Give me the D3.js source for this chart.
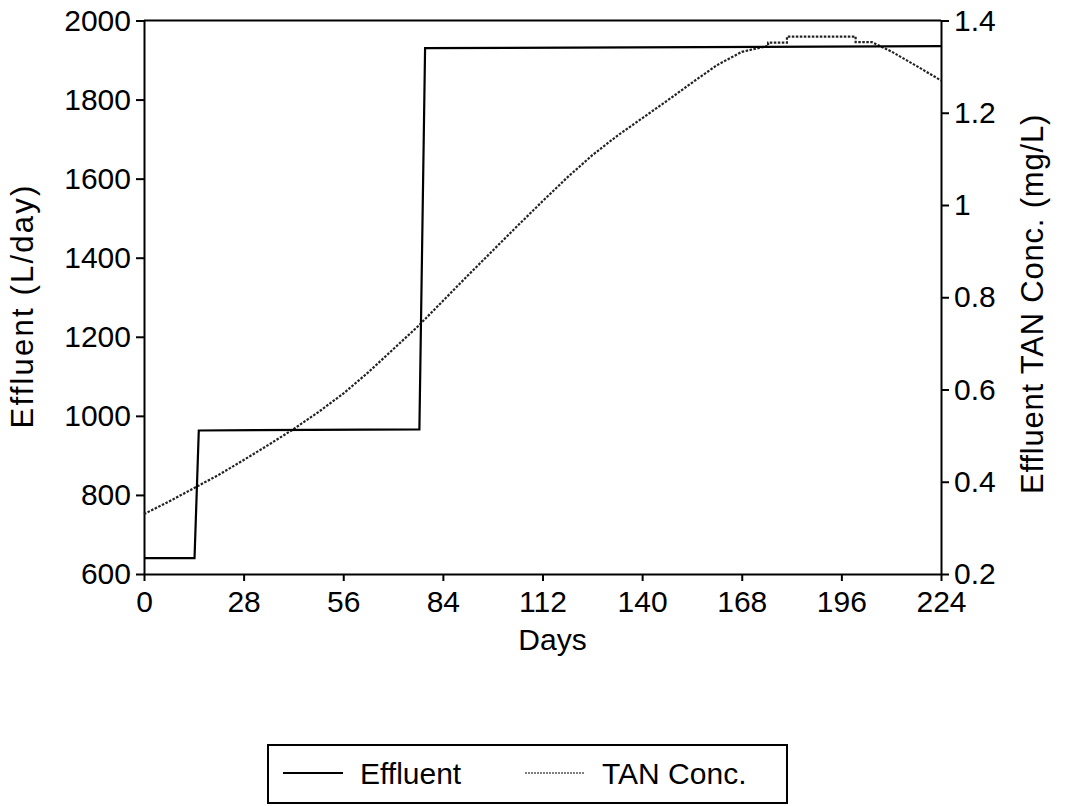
<!DOCTYPE html>
<html>
<head>
<meta charset="utf-8">
<script src="https://cdn.jsdelivr.net/npm/d3@7"></script>
<style>
  body { margin: 0; background: #fff; }
  svg text { font-family: "Liberation Sans", Arial, sans-serif; fill: #000; }
</style>
</head>
<body>
<div id="chart"></div>
<script>
// data
var effluentDays = [0, 14.2, 15.4, 77.4, 79.0, 224];
var effluentFlow = [640, 640, 963, 966, 1930, 1935];

var tanDays = [0, 7, 14, 21, 28, 35, 42, 49, 56, 63, 70, 77, 84, 91, 98, 105, 112, 119, 126, 133, 140, 147, 154, 161, 168, 175.4, 175.4, 180.7, 180.7, 200, 200, 204.6, 210, 217, 224];
var tanConc = [0.330, 0.357, 0.386, 0.415, 0.447, 0.480, 0.514, 0.551, 0.591, 0.637, 0.687, 0.737, 0.792, 0.847, 0.901, 0.955, 1.008, 1.060, 1.108, 1.150, 1.188, 1.226, 1.265, 1.303, 1.332, 1.345, 1.352, 1.352, 1.365, 1.365, 1.353, 1.353, 1.333, 1.302, 1.270];

var xTicks = [0, 28, 56, 84, 112, 140, 168, 196, 224];
var yLeftTicks = [600, 800, 1000, 1200, 1400, 1600, 1800, 2000];
var yRightTicks = [0.2, 0.4, 0.6, 0.8, 1, 1.2, 1.4];
var legendNames = ["Effluent", "TAN Conc."];

// set the dimensions and margins of the graph
var W = 1065, H = 806;
var margin = {top: 20.5, right: 124, bottom: 232, left: 144},
    width = W - margin.left - margin.right,
    height = H - margin.top - margin.bottom;

var svg = d3.select("#chart")
  .append("svg")
    .attr("width", W)
    .attr("height", H);

var g = svg.append("g")
    .attr("transform", "translate(" + margin.left + "," + margin.top + ")");

var x = d3.scaleLinear().domain([0, 224]).range([0, width]);
var yL = d3.scaleLinear().domain([600, 2000]).range([height, 0]);
var yR = d3.scaleLinear().domain([0.2, 1.4]).range([height, 0]);

// top frame line
g.append("line")
    .attr("x1", 0).attr("x2", width)
    .attr("y1", 0).attr("y2", 0)
    .attr("stroke", "#000").attr("stroke-width", 2);

function styleAxis(sel) {
  sel.select(".domain").attr("stroke", "#000").attr("stroke-width", 2);
  sel.selectAll(".tick line").attr("stroke", "#000").attr("stroke-width", 2);
  sel.selectAll(".tick text").style("font-size", "30px");
}

// X axis
var xAxis = g.append("g")
    .attr("transform", "translate(0," + height + ")")
    .call(d3.axisBottom(x).tickValues(xTicks).tickSize(7).tickSizeOuter(0).tickPadding(10));
styleAxis(xAxis);

// left Y axis
var yAxisL = g.append("g")
    .call(d3.axisLeft(yL).tickValues(yLeftTicks).tickSize(8).tickSizeOuter(0).tickPadding(5)
      .tickFormat(d3.format("d")));
styleAxis(yAxisL);

// right Y axis
var yAxisR = g.append("g")
    .attr("transform", "translate(" + width + ",0)")
    .call(d3.axisRight(yR).tickValues(yRightTicks).tickSize(8).tickSizeOuter(0).tickPadding(5)
      .tickFormat(function(d) { return d === 1 ? "1" : d3.format(".1f")(d); }));
styleAxis(yAxisR);

// axis labels
svg.append("text")
    .attr("x", margin.left + width / 2 + 10)
    .attr("y", 650)
    .attr("text-anchor", "middle")
    .style("font-size", "30px")
    .text("Days");

svg.append("text")
    .attr("transform", "translate(33,306) rotate(-90)")
    .attr("text-anchor", "middle")
    .style("font-size", "31px")
    .style("letter-spacing", "2.2px")
    .text("Effluent (L/day)");

svg.append("text")
    .attr("transform", "translate(1043,304) rotate(-90)")
    .attr("text-anchor", "middle")
    .style("font-size", "31px")
    .style("letter-spacing", "0.8px")
    .text("Effluent TAN Conc. (mg/L)");

// lines
var effluentLine = d3.line()
    .x(function(d, i) { return x(effluentDays[i]); })
    .y(function(d) { return yL(d); });

var tanLine = d3.line()
    .x(function(d, i) { return x(tanDays[i]); })
    .y(function(d) { return yR(d); });

g.append("path")
    .attr("d", tanLine(tanConc))
    .attr("fill", "none")
    .attr("stroke", "#222")
    .attr("stroke-width", 2.2)
    .attr("stroke-dasharray", "2.5,1.5");

g.append("path")
    .attr("d", effluentLine(effluentFlow))
    .attr("fill", "none")
    .attr("stroke", "#000")
    .attr("stroke-width", 2.2);

// legend
var legend = svg.append("g");
legend.append("rect")
    .attr("x", 268).attr("y", 745)
    .attr("width", 519).attr("height", 58)
    .attr("fill", "none")
    .attr("stroke", "#000")
    .attr("stroke-width", 2);

var legX = [283, 525];
legendNames.forEach(function(name, i) {
  legend.append("line")
      .attr("x1", legX[i]).attr("x2", legX[i] + 60)
      .attr("y1", 773).attr("y2", 773)
      .attr("stroke", i === 0 ? "#000" : "#555")
      .attr("stroke-width", i === 0 ? 2.2 : 1.6)
      .attr("stroke-dasharray", i === 0 ? null : "2,1");
  legend.append("text")
      .attr("x", legX[i] + 77)
      .attr("y", 784)
      .style("font-size", "30px")
      .text(name);
});
</script>
</body>
</html>
